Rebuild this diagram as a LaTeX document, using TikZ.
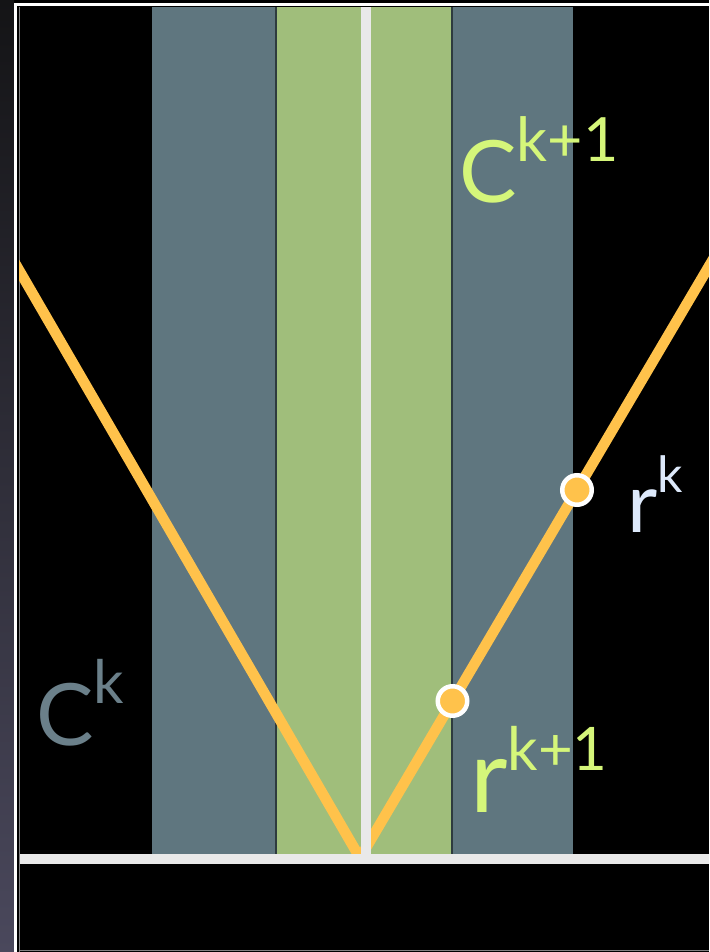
\documentclass[tikz,border=0pt]{standalone}
\usepackage{fontspec}
\setmainfont{Lato}
\usetikzlibrary{positioning}
\definecolor{bandSlate}{RGB}{95,118,127}
\definecolor{bandGreen}{RGB}{160,190,123}
\definecolor{bandEdge}{RGB}{46,59,62}
\definecolor{axisGrey}{RGB}{233,233,233}
\definecolor{rayOrange}{RGB}{255,194,75}
\definecolor{limeText}{RGB}{213,246,122}
\definecolor{slateText}{RGB}{107,128,138}
\definecolor{paleBlue}{RGB}{221,233,251}
\definecolor{sideTop}{RGB}{20,20,22}
\definecolor{sideBot}{RGB}{74,72,92}
\tikzset{
  ray/.style={rayOrange, line width=10.5pt},
  hit/.style={circle, fill=rayOrange, draw=white, line width=4.5pt, minimum size=29.5pt, inner sep=0pt},
  lbl/.style={anchor=base west, inner sep=0pt}
}

\begin{document}
\begin{tikzpicture}[x=1pt,y=-1pt]
      \useasboundingbox (0,0) rectangle (709,952);
      % Frame
      \fill[black] (0,0) rectangle (709,952);
      \shade[top color=sideTop, bottom color=sideBot] (0,0) rectangle (14,952);
      \fill[white] (14,3.5) rectangle (709,6);
      \fill[white] (14,3.5) rectangle (16.7,952);
      \draw[gray, line width=1pt] (19.5,7) -- (19.5,952);
      \draw[gray, line width=1pt] (19,950.5) -- (709,950.5);

      % Bands
      \fill[bandSlate] (152,7) rectangle (275,854);
      \fill[bandSlate] (453,7) rectangle (573,854);
      \fill[bandGreen] (277,7) rectangle (361,854);
      \fill[bandGreen] (371,7) rectangle (451,854);
      \fill[bandEdge] (275,7) rectangle (277,854);
      \fill[bandEdge] (451,7) rectangle (453,854);

      % Rays
      \coordinate (apex) at (360,858);
      \coordinate (leftEnd) at (12,258);
      \coordinate (rightEnd) at (715,256);
      \begin{scope}
        \clip (19,7) rectangle (709,854);
        \draw[ray] (leftEnd) -- (apex);
        \draw[ray] (apex) -- (rightEnd);
      \end{scope}

      % Axes
      \fill[axisGrey] (361,7) rectangle (371,854);
      \fill[axisGrey] (20,854) rectangle (709,864);

      % Hit points
      \node[hit] (hitK) at (577,490) {};
      \node[hit] (hitKone) at (452.5,701) {};

      % Labels
      \node[lbl, text=limeText, font=\fontsize{86}{86}\selectfont] (cellKone) at (459,202)
        {C\raisebox{40pt}{\fontsize{61}{61}\selectfont k+1}};
      \node[lbl, text=slateText, font=\fontsize{86}{86}\selectfont] (cellK) at (36,745)
        {C\raisebox{42pt}{\fontsize{60}{60}\selectfont k}};
      \node[lbl, text=paleBlue, font=\fontsize{83}{83}\selectfont] (radK) at (627,532)
        {r\raisebox{40pt}{\fontsize{50}{50}\selectfont k}};
      \node[lbl, text=limeText, font=\fontsize{103}{103}\selectfont] (radKone) at (470,812)
        {r\raisebox{42pt}{\fontsize{60}{60}\selectfont k+1}};
    \end{tikzpicture}
\end{document}
